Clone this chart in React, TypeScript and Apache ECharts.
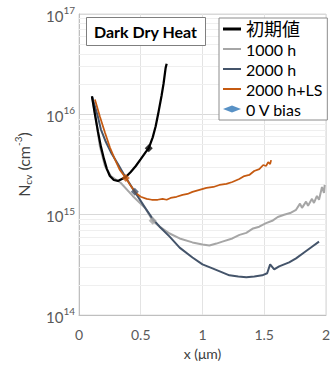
import React, { useEffect, useRef } from 'react';
import * as echarts from 'echarts';

// x in µm, N_cv in cm^-3
const initialX = [0.105, 0.129, 0.153, 0.177, 0.202, 0.226, 0.250, 0.282, 0.315, 0.347, 0.379, 0.419, 0.460, 0.500, 0.540, 0.565, 0.597, 0.621, 0.645, 0.669, 0.685, 0.702, 0.710];
const initialY = [1.51e16, 1.0e16, 6.8e15, 4.8e15, 3.6e15, 2.85e15, 2.43e15, 2.22e15, 2.17e15, 2.27e15, 2.38e15, 2.67e15, 3.06e15, 3.58e15, 4.2e15, 4.6e15, 5.9e15, 7.6e15, 1.07e16, 1.54e16, 2.03e16, 2.92e16, 3.2e16];

const h1000X = [0.105, 0.137, 0.169, 0.210, 0.258, 0.339, 0.435, 0.540, 0.597, 0.653, 0.734, 0.815, 0.919, 1.0, 1.056, 1.113, 1.161, 1.242, 1.30, 1.355, 1.41, 1.46, 1.51, 1.565, 1.61, 1.661, 1.71, 1.758, 1.79, 1.806, 1.839, 1.855, 1.887, 1.903, 1.927, 1.944, 1.968, 1.984, 1.99];
const h1000Y = [1.51e16, 8.9e15, 4.8e15, 3.06e15, 2.43e15, 2.07e15, 1.54e15, 1.15e15, 8.7e14, 7.6e14, 6.5e14, 5.8e14, 5.3e14, 5.05e14, 4.93e14, 5.16e14, 5.4e14, 5.8e14, 6.3e14, 6.6e14, 7.3e14, 7.6e14, 8.2e14, 8.7e14, 9.5e14, 1.0e15, 1.04e15, 1.12e15, 1.29e15, 1.17e15, 1.35e15, 1.23e15, 1.44e15, 1.31e15, 1.54e15, 1.41e15, 1.89e15, 1.65e15, 1.98e15];

const h2000X = [0.105, 0.153, 0.177, 0.218, 0.258, 0.315, 0.371, 0.452, 0.540, 0.597, 0.653, 0.734, 0.815, 0.919, 1.0, 1.081, 1.15, 1.218, 1.29, 1.355, 1.42, 1.484, 1.524, 1.548, 1.581, 1.621, 1.702, 1.758, 1.823, 1.887, 1.944];
const h2000Y = [1.51e16, 9.5e15, 7.1e15, 5.3e15, 4.2e15, 3.2e15, 2.43e15, 1.69e15, 1.15e15, 9.1e14, 7.6e14, 6.05e14, 4.7e14, 3.75e14, 3.2e14, 2.92e14, 2.7e14, 2.49e14, 2.42e14, 2.38e14, 2.42e14, 2.49e14, 2.61e14, 3.2e14, 2.85e14, 3.06e14, 3.35e14, 3.67e14, 4.2e14, 4.8e14, 5.4e14];

const lsX = [0.129, 0.169, 0.210, 0.250, 0.290, 0.331, 0.379, 0.419, 0.460, 0.500, 0.548, 0.589, 0.637, 0.677, 0.710, 0.742, 0.790, 0.839, 0.879, 0.919, 0.976, 1.032, 1.089, 1.137, 1.194, 1.242, 1.298, 1.339, 1.379, 1.419, 1.46, 1.492, 1.516, 1.532, 1.548, 1.556];
const lsY = [1.41e16, 9.5e15, 6.6e15, 4.7e15, 3.58e15, 2.79e15, 2.32e15, 1.94e15, 1.65e15, 1.51e15, 1.44e15, 1.41e15, 1.41e15, 1.44e15, 1.41e15, 1.47e15, 1.51e15, 1.58e15, 1.61e15, 1.69e15, 1.77e15, 1.85e15, 1.89e15, 1.98e15, 2.03e15, 2.12e15, 2.27e15, 2.43e15, 2.49e15, 2.73e15, 2.85e15, 3.13e15, 3.06e15, 3.35e15, 3.2e15, 3.5e15];

const biasX = [0.565, 0.597, 0.452, 0.379];
const biasY = [4.6e15, 8.7e14, 1.69e15, 2.32e15];
const biasColors = ['#000000', '#a6a6a6', '#44546a', '#c55a11'];

const seriesNames = ['初期値', '1000 h', '2000 h', '2000 h+LS', '0 V bias'];
const minorMultipliers = [2, 3, 4, 5, 6, 7, 8, 9];
const minorDecades = [14, 15, 16];

const zip = (xs: number[], ys: number[]) => xs.map((x, i) => [x, ys[i]]);

export default function App() {
  const ref = useRef<HTMLDivElement>(null);
  useEffect(() => {
    document.body.style.margin = '0';
    const chart = echarts.init(ref.current!, null, { renderer: 'svg' });
    const minorVals: number[] = [];
    minorDecades.forEach((d) => minorMultipliers.forEach((m) => minorVals.push(m * Math.pow(10, d))));
    const font = 'Lato, "Noto Sans CJK JP", sans-serif';
    const thinLine = 'path://M0,0L18,0L18,2L0,2Z';
    const thickLine = 'path://M0,0L18,0L18,3L0,3Z';
    const lineSeries = (name: string, data: number[][], color: string, width: number, z: number, extra: any = {}) => ({
      name,
      type: 'line',
      data,
      symbol: 'none',
      showSymbol: false,
      z,
      lineStyle: { color, width },
      itemStyle: { color },
      emphasis: { disabled: true },
      ...extra,
    });
    chart.setOption({
      animation: false,
      textStyle: { fontFamily: font },
      title: {
        text: 'Dark Dry Heat',
        left: 86,
        top: 17,
        padding: [6, 8, 6, 8],
        borderColor: '#7f7f7f',
        borderWidth: 1,
        backgroundColor: '#ffffff',
        textStyle: { fontSize: 16, fontWeight: 'bold', color: '#000', fontFamily: font, lineHeight: 17 },
      },
      legend: {
        data: [
          { name: seriesNames[0], icon: thickLine },
          { name: seriesNames[1], icon: thinLine },
          { name: seriesNames[2], icon: thinLine },
          { name: seriesNames[3], icon: thinLine },
          { name: seriesNames[4] },
        ],
        orient: 'vertical',
        left: 219,
        top: 18,
        padding: [1, 5, 1, 4],
        itemGap: 0,
        itemWidth: 18,
        itemHeight: 7,
        borderColor: '#8c8c8c',
        borderWidth: 1,
        backgroundColor: '#ffffff',
        formatter: (n: string) => (n === '初期値' ? '{c|初期値}' : n),
        textStyle: {
          fontSize: 16,
          lineHeight: 20,
          color: '#000',
          fontFamily: font,
          rich: { c: { fontSize: 18, lineHeight: 20, fontFamily: font } },
        },
      },
      grid: {
        left: 79,
        right: 6,
        top: 14,
        bottom: 49,
        show: true,
        borderColor: '#d9d9d9',
        borderWidth: 1,
      },
      xAxis: {
        type: 'value',
        min: 0,
        max: 2,
        interval: 0.5,
        name: 'x (μm)',
        nameLocation: 'middle',
        nameGap: 28,
        nameTextStyle: { fontSize: 14, color: '#404040', fontFamily: font },
        axisLine: { show: true, lineStyle: { color: '#bfbfbf', width: 1 } },
        axisTick: { show: false },
        axisLabel: { fontSize: 14, color: '#595959', margin: 12, fontFamily: font },
        splitLine: { show: true, lineStyle: { color: '#e3e3e3', width: 1 } },
      },
      yAxis: {
        type: 'log',
        logBase: 10,
        min: 1e14,
        max: 1e17,
        name: '{a|N}{s|cv}{a| (cm}{p|-3}{a|)}',
        nameLocation: 'middle',
        nameGap: 46,
        nameTextStyle: {
          color: '#404040',
          fontFamily: font,
          rich: {
            a: { fontSize: 16, color: '#404040', lineHeight: 20, verticalAlign: 'middle', fontFamily: font },
            s: { fontSize: 10, color: '#404040', verticalAlign: 'bottom', fontFamily: font },
            p: { fontSize: 10, color: '#404040', verticalAlign: 'top', fontFamily: font },
          },
        },
        axisLine: { show: true, lineStyle: { color: '#bfbfbf', width: 1 } },
        axisTick: { show: false },
        axisLabel: {
          margin: 4,
          formatter: (v: number) => '{b|10}{e|' + Math.round(Math.log10(v)) + '}',
          rich: {
            b: { fontSize: 15, color: '#595959', lineHeight: 18, verticalAlign: 'bottom', fontFamily: font },
            e: { fontSize: 10, color: '#595959', verticalAlign: 'top', fontFamily: font },
          },
        },
        splitLine: { show: true, lineStyle: { color: '#d9d9d9', width: 1 } },
      },
      series: [
        lineSeries(seriesNames[1], zip(h1000X, h1000Y), '#a6a6a6', 2, 2, {
          markLine: {
            silent: true,
            z: 1,
            symbol: ['none', 'none'],
            label: { show: false },
            emphasis: { disabled: true },
            lineStyle: { color: '#efefef', type: 'solid', width: 1 },
            data: minorVals.map((v) => ({ yAxis: v })),
          },
        }),
        lineSeries(seriesNames[2], zip(h2000X, h2000Y), '#44546a', 2, 3),
        lineSeries(seriesNames[3], zip(lsX, lsY), '#c55a11', 1.75, 4),
        lineSeries(seriesNames[0], zip(initialX, initialY), '#000000', 2.25, 5),
        {
          name: seriesNames[4],
          type: 'scatter',
          symbol: 'diamond',
          symbolSize: 8,
          z: 6,
          itemStyle: { color: '#2e75b6' },
          emphasis: { disabled: true },
          data: biasX.map((x, i) => ({ value: [x, biasY[i]], itemStyle: { color: biasColors[i] } })),
        },
      ],
    });
    return () => chart.dispose();
  }, []);
  return <div ref={ref} style={{ width: 333, height: 365 }} />;
}
